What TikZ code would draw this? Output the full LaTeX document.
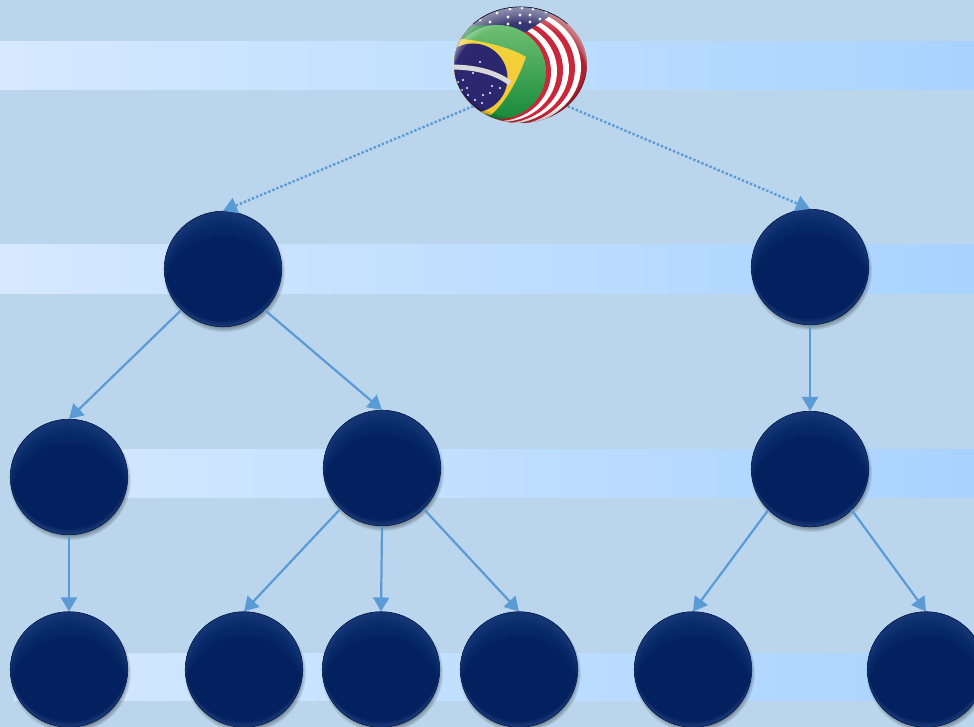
\documentclass[tikz,border=0pt]{standalone}
\usetikzlibrary{arrows.meta,shadows,shapes.geometric}
\definecolor{bgc}{HTML}{BBD6EC}
\definecolor{bandl}{HTML}{D6E9FF}
\definecolor{bandr}{HTML}{A8D3FF}
\definecolor{linec}{HTML}{5B9BD5}
\definecolor{navyb}{HTML}{04215F}
\definecolor{navyt}{HTML}{5A7CBA}
\definecolor{rimc}{HTML}{4A6FA8}
\definecolor{fyellow}{HTML}{F2D33C}
\definecolor{fblue}{HTML}{2B2870}
\definecolor{fred}{HTML}{C9283A}
\definecolor{fnavy}{HTML}{35356F}
\definecolor{gtop}{HTML}{6FBF72}
\definecolor{gbot}{HTML}{178A3A}
\tikzset{
  x=1pt,y=-1pt,
  band/.style={left color=bandl,right color=bandr,draw=none},
  ball/.style={ellipse,minimum width=117.5pt,minimum height=115.5pt,inner sep=0pt,draw=navyb!80!black,line width=.6pt,fill=navyb,
    circular drop shadow={shadow xshift=1pt,shadow yshift=-3pt,shadow scale=1.04,fill=black,opacity=.55},
    path picture={
      \begin{scope}[shift={(path picture bounding box.center)}]
      \foreach \d in {1,2,...,36}
        \fill[navyt,opacity=.008,even odd rule] (0,0) ellipse [x radius=59,y radius=58] (0,\d) ellipse [x radius=59,y radius=58];
      \foreach \d in {1,2,...,26}
        \fill[navyt,opacity=.012,even odd rule] (0,0) ellipse [x radius=59,y radius=58] (0,\d) ellipse [x radius=59,y radius=58];
      \foreach \d in {1,2,...,16}
        \fill[navyt,opacity=.02,even odd rule] (0,0) ellipse [x radius=59,y radius=58] (0,\d) ellipse [x radius=59,y radius=58];
      \foreach \d in {1,2,...,6}
        \fill[rimc,opacity=.07,even odd rule] (0,0) ellipse [x radius=59,y radius=58] (0,-\d) ellipse [x radius=59,y radius=58];
      \end{scope}
    }},
  globe/.style={ellipse,minimum width=133pt,minimum height=116pt,inner sep=0pt},
  treeedge/.style={draw=linec,line width=2.2pt,-{Triangle[length=14pt,width=16pt]}},
  dotedge/.style={treeedge,line width=2.4pt,dash pattern=on 2.4pt off 2pt},
  star/.style={white,opacity=.95},
}
\begin{document}
\begin{tikzpicture}
\useasboundingbox (0,0) rectangle (974,727);
\fill[bgc] (0,0) rectangle (974,727);
\fill[band] (0,42) rectangle (974,90);
\fill[band] (0,245) rectangle (974,293);
\fill[band] (14,449) rectangle (974,497);
\fill[band] (14,653) rectangle (974,700);

\node[globe] (g) at (520.5,65) {};
\node[ball] (a) at (223,269) {};
\node[ball] (b) at (810,267) {};
\node[ball] (c) at (69,477) {};
\node[ball] (d) at (382,468) {};
\node[ball] (e) at (810,469) {};
\node[ball] (f) at (69,669.5) {};
\node[ball] (h) at (244,669.5) {};
\node[ball] (i) at (381,669.5) {};
\node[ball] (j) at (519,669.5) {};
\node[ball] (k) at (693,669.5) {};
\node[ball] (l) at (926,669.5) {};

\begin{scope}
\clip (520.5,65) ellipse [x radius=66.5,y radius=58];
\fill[fred!85!black] (440,0) rectangle (600,130);
% stripes: rings round the green disc
\foreach \k/\c in {5/white,4/fred,3/white,2/fred,1/white,0/fred}
  \fill[\c] (498+3*\k,72-\k) ellipse [x radius=53+3*\k,y radius=49+2*\k];
% canton
\fill[fnavy] (440,60) -- (462,0) -- (565,0) -- (547,18) -- (526,32) -- (510,30) -- (480,30) -- cycle;
\foreach \p in {(490,22),(508,17),(520,15),(530,15),(540,19),(508,24),(520,23),(530,22),(497,13),(510,9),(522,8),(533,9),(546,12),(480,20)}
  \fill[star] \p circle (1.6);
% green disc
\fill[gbot] (456,38) -- (470,26) -- (492,25) -- (492,48) -- cycle;
\shade[top color=gtop,bottom color=gbot] (498,72) ellipse [x radius=48,y radius=47];
% yellow lozenge
\shade[top color=fyellow,bottom color=fyellow!85!orange] (456,38.5) .. controls (480,40) and (510,47) .. (526,57)
   .. controls (518,80) and (505,103) .. (491,115) -- (475,112) -- (440,100) -- (440,40) -- cycle;
% blue disc
\fill[fblue] (473,78) circle (34.5);
% white band
\draw[white!85!black,line width=5pt] (450,67) .. controls (475,67) and (495,72) .. (510,83);
\foreach \p in {(480,62),(473,73),(463,80),(458,82),(467,88),(492,86),(500,88),(483,95),(490,93),(475,100),(482,103),(468,95),(462,90)}
  \fill[star] \p circle (1.2);
% gloss and shade
\foreach \d in {1,2,...,18}
  \fill[white,opacity=.04,even odd rule] (520.5,65) ellipse [x radius=68,y radius=60] (520.5,65+\d) ellipse [x radius=68,y radius=60];
\foreach \d in {1,2,...,6}
  \fill[black,opacity=.05,even odd rule] (520.5,65) ellipse [x radius=67,y radius=59] (520.5,65-\d) ellipse [x radius=67,y radius=59];
\end{scope}
\draw[black!70!navyb,line width=.6pt] (g.north west) arc[start angle=-135,end angle=-45,x radius=66.5,y radius=58];

\draw[dotedge] (g.south west) -- (a.north);
\draw[dotedge] (g.south east) -- (b.north);
\draw[treeedge] (a.south west) -- (c.north);
\draw[treeedge] (a.south east) -- (d.north);
\draw[treeedge] (b.south) -- (e.north);
\draw[treeedge] (c.south) -- (f.north);
\draw[treeedge] (d.south west) -- (h.north);
\draw[treeedge] (d.south) -- (i.north);
\draw[treeedge] (d.south east) -- (j.north);
\draw[treeedge] (e.south west) -- (k.north);
\draw[treeedge] (e.south east) -- (l.north);
\end{tikzpicture}
\end{document}
